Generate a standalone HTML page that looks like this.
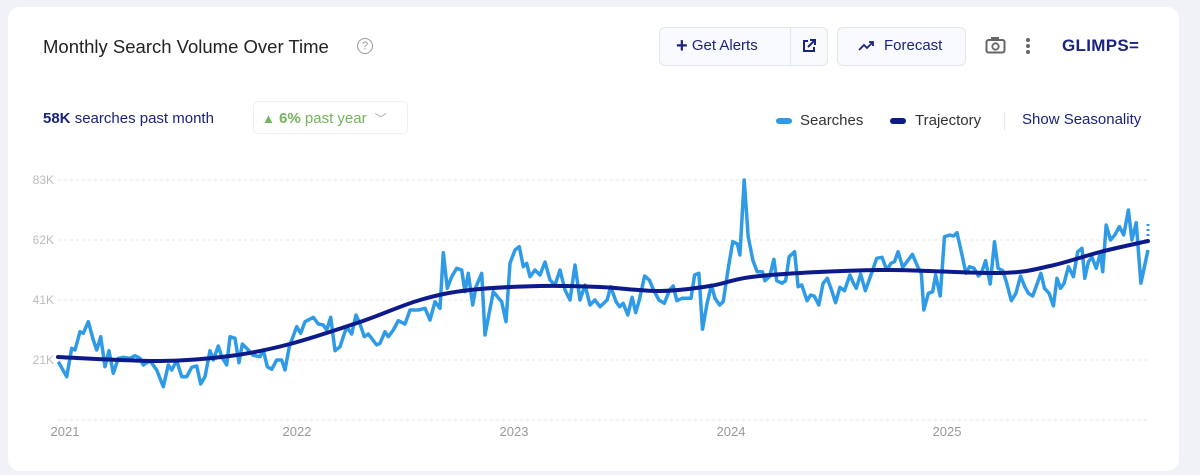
<!DOCTYPE html>
<html><head><meta charset="utf-8"><style>
body{margin:0;width:1200px;height:475px;background:#f0f2f7;font-family:"Liberation Sans",sans-serif;position:relative;overflow:hidden}
.card{position:absolute;left:8px;top:7px;width:1171px;height:464px;background:#fff;border-radius:12px}
.abs{position:absolute;white-space:nowrap}
.btn{position:absolute;border:1px solid #e2e6ee;background:#f8fafd;border-radius:6px;box-sizing:border-box}
</style></head><body>
<div class="card"></div>
<div class="abs" style="left:43px;top:36px;font-size:18.5px;color:#222">Monthly Search Volume Over Time</div>
<div class="abs" style="left:357px;top:38px;width:14px;height:14px;border:1.5px solid #999;border-radius:50%;font-size:11px;color:#999;text-align:center;line-height:14px">?</div>
<div class="btn" style="left:659px;top:27px;width:169px;height:39px"></div>
<div class="abs" style="left:790px;top:28px;width:1px;height:37px;background:#e2e6ee"></div>
<div class="abs" style="left:676px;top:35px;font-size:15px;color:#1a237e"><b style="font-size:20px;vertical-align:-2px">+</b> Get Alerts</div>
<svg class="abs" style="left:801px;top:38px" width="16" height="16" viewBox="0 0 16 16"><path d="M7 3H3v10h10V9" fill="none" stroke="#1a237e" stroke-width="2"/><path d="M9 2h5v5M14 2L7 9" fill="none" stroke="#1a237e" stroke-width="2"/></svg>
<div class="btn" style="left:837px;top:27px;width:129px;height:39px"></div>
<svg class="abs" style="left:858px;top:40px" width="18" height="12"><path d="M1 10l5-5 3 3 6-6M11 2h4v4" fill="none" stroke="#1a237e" stroke-width="1.8"/></svg>
<div class="abs" style="left:884px;top:37px;font-size:15px;color:#1a237e">Forecast</div>
<svg class="abs" style="left:985px;top:36px" width="21" height="18"><rect x="1.5" y="4" width="18" height="12.5" rx="2" fill="none" stroke="#666" stroke-width="2"/><rect x="6" y="1" width="8" height="4" fill="#666"/><circle cx="10.5" cy="10.5" r="3.2" fill="none" stroke="#666" stroke-width="1.8"/></svg>
<svg class="abs" style="left:1025px;top:37px" width="6" height="18"><circle cx="3" cy="3" r="2" fill="#666"/><circle cx="3" cy="9" r="2" fill="#666"/><circle cx="3" cy="15" r="2" fill="#666"/></svg>
<div class="abs" style="left:1062px;top:36px;font-size:17px;font-weight:bold;color:#1a237e;letter-spacing:0.3px">GLIMPS<span style="letter-spacing:-1px">=</span></div>
<div class="abs" style="left:43px;top:110px;font-size:15px;color:#1a237e"><b>58K</b> searches past month</div>
<div class="abs" style="left:253px;top:101px;width:155px;height:33px;border:1px solid #eef0f3;border-radius:5px;box-sizing:border-box"></div>
<div class="abs" style="left:262px;top:110px;font-size:15px;color:#74b45a"><span style="font-size:13px">▲</span> <b>6%</b> past year <span style="color:#aaa;font-size:12px;margin-left:4px">﹀</span></div>
<div class="abs" style="left:776px;top:118px;width:16px;height:6px;border-radius:3px;background:#2f9be6"></div>
<div class="abs" style="left:800px;top:112px;font-size:15px;color:#333">Searches</div>
<div class="abs" style="left:890px;top:118px;width:16px;height:6px;border-radius:3px;background:#0d1b8a"></div>
<div class="abs" style="left:915px;top:112px;font-size:15px;color:#333">Trajectory</div>
<div class="abs" style="left:1004px;top:112px;width:1px;height:18px;background:#e5e5e5"></div>
<div class="abs" style="left:1022px;top:111px;font-size:15px;color:#1a237e">Show Seasonality</div>
<svg class="abs" style="left:0;top:0" width="1200" height="475" id="ch">
<g stroke="#e6e6e6" stroke-dasharray="3,3" stroke-width="1">
<line x1="58" x2="1148" y1="180" y2="180"/><line x1="58" x2="1148" y1="240" y2="240"/><line x1="58" x2="1148" y1="300" y2="300"/><line x1="58" x2="1148" y1="360" y2="360"/><line x1="58" x2="1148" y1="420" y2="420"/></g>
<g font-size="12" fill="#bbb" text-anchor="end" font-family="Liberation Sans,sans-serif">
<text x="54" y="184">83K</text><text x="54" y="244">62K</text><text x="54" y="304">41K</text><text x="54" y="364">21K</text></g>
<g font-size="13" fill="#999" text-anchor="middle" font-family="Liberation Sans,sans-serif">
<text x="65" y="436">2021</text><text x="297" y="436">2022</text><text x="514" y="436">2023</text><text x="731" y="436">2024</text><text x="947" y="436">2025</text></g>
<path id="s" fill="none" stroke="#2f9be6" stroke-width="3.5" stroke-linejoin="round"/>
<path id="t" fill="none" stroke="#0d1b8a" stroke-width="4" stroke-linecap="round"/>
<line x1="1148" y1="224" x2="1148" y2="238" stroke="#2f9be6" stroke-width="3" stroke-dasharray="2,3"/>
</svg>
<script>
var a=[85,395,110,440,125,355,135,360,150,305,160,310,175,275,190,330,200,360,212,320,225,410,237,362,250,430,265,385,280,382,300,385,315,377,330,385,340,405,360,392,380,420,400,470,415,405,425,420,440,392,455,440,470,440,485,412,500,408,512,462,525,440,540,362,550,390,565,348,575,380,590,405,600,320,615,325,627,398,637,342,655,360,670,376,690,380,700,360,712,410,725,418,740,390,755,390,765,420,778,350,800,290,812,310,825,275,850,262,865,282,880,285,890,300,902,262,915,362,930,350,950,290,965,312,978,255,990,282,1003,320,1015,312,1040,345,1050,340,1065,305,1075,320,1090,300,1105,272,1125,282,1140,240,1165,240,1185,235,1200,270,1215,215,1230,235,1240,68,1252,175,1265,140,1280,115,1295,120,1305,185,1315,130,1328,225,1338,170,1355,130,1365,315,1390,185,1415,215,1428,275,1440,100,1455,60,1468,50,1480,110,1490,100,1500,140];
var mid=[535,270,540,275,545,262,550,280,555,285,560,270,565,290,570,300,575,265,580,300,585,285,590,305,595,300];
var b=[0,410,20,390,30,350,45,395,55,410,65,400,78,435,90,382,100,428,110,390,125,318,138,330,150,360,165,390,180,400,195,360,205,348,215,392,230,385,255,385,265,315,277,310,287,478,300,400,312,345,322,385,335,405,345,395,360,290,372,215,385,222,392,255,404,30,415,200,428,270,440,305,455,305,462,332,475,320,487,268,495,332,510,340,520,332,530,260,545,245,555,350,565,345,580,392,590,375,600,378,613,405,625,340,637,325,650,365,660,398,672,352,685,362,700,315,710,340,718,355,730,312,743,362,760,312,775,265,790,262,803,300,815,280,825,275,835,245,848,292,860,275,875,253,890,290,900,310,907,420,920,370,932,365,940,315,953,378,965,200,980,195,990,198,1000,188,1015,260,1025,310,1035,290,1048,295,1060,318,1068,310,1080,272,1093,342,1105,215,1115,295,1128,302,1138,335,1152,392,1165,370,1178,318,1190,350,1200,370,1212,378,1225,340,1235,310,1245,355,1258,370,1270,408,1280,325,1290,355,1300,340,1312,290,1326,320,1338,245,1350,235,1358,325,1368,275,1378,262,1390,295,1402,248,1408,305,1418,165,1430,210,1442,195,1455,170,1467,195,1480,120,1490,210,1502,158,1515,340,1535,240];
var pts=[];
for(var i=0;i<a.length;i+=2)pts.push([30+a[i]/3,230+a[i+1]/3]);
for(i=0;i<mid.length;i+=2)pts.push([mid[i],mid[i+1]]);
var sx=548/1535;
for(i=0;i<b.length;i+=2)pts.push([600+b[i]*sx,170+b[i+1]/3]);
document.getElementById('s').setAttribute('d','M'+pts.map(function(p){return p[0].toFixed(1)+','+p[1].toFixed(1)}).join('L'));
var t=[[58,357],[160,361],[230,356],[290,344],[360,322],[420,300],[470,290],[540,286],[600,287],[660,291],[710,286],[760,276],[880,270],[1000,273],[1050,266],[1100,252],[1148,241]];
var d='M'+t[0][0]+','+t[0][1];
for(i=0;i<t.length-1;i++){var p0=t[Math.max(i-1,0)],p1=t[i],p2=t[i+1],p3=t[Math.min(i+2,t.length-1)];
var c1x=p1[0]+(p2[0]-p0[0])/6,c1y=p1[1]+(p2[1]-p0[1])/6,c2x=p2[0]-(p3[0]-p1[0])/6,c2y=p2[1]-(p3[1]-p1[1])/6;
d+=' C'+c1x.toFixed(1)+','+c1y.toFixed(1)+' '+c2x.toFixed(1)+','+c2y.toFixed(1)+' '+p2[0]+','+p2[1];}
document.getElementById('t').setAttribute('d',d);
</script>
</body></html>
